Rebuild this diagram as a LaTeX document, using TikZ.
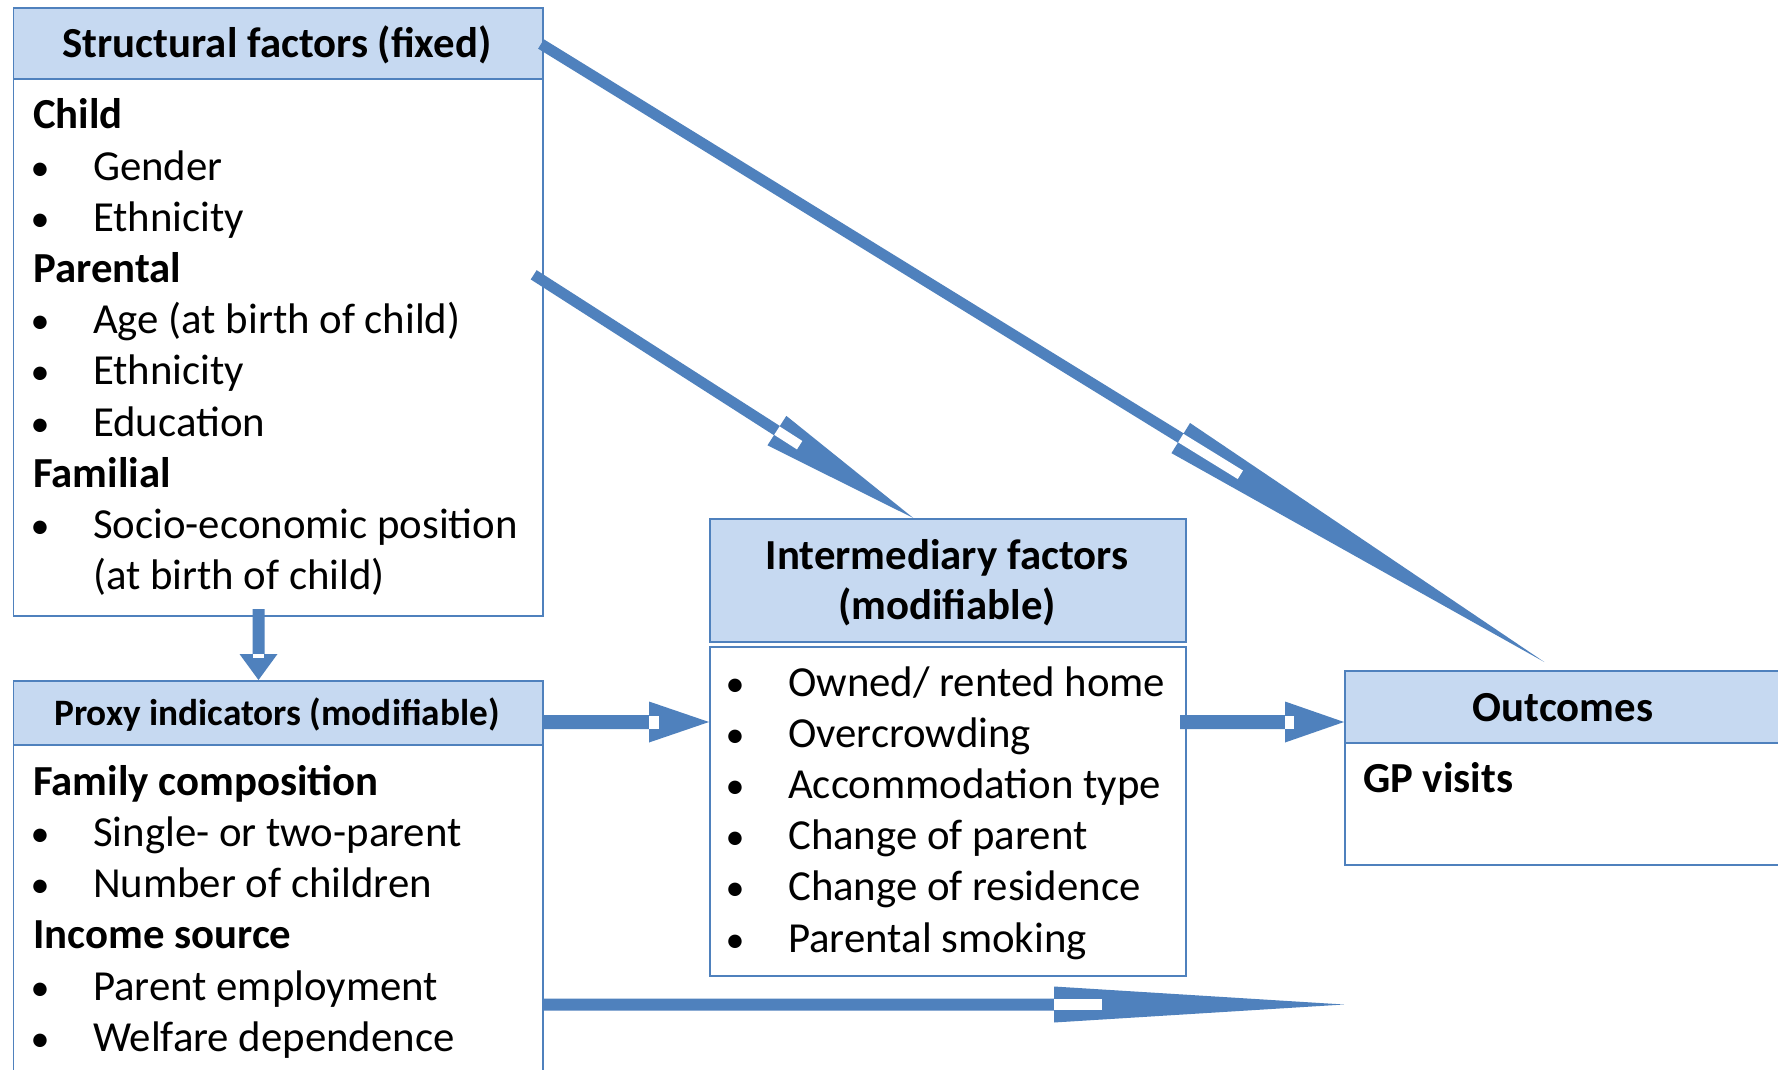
\documentclass[tikz,border=0pt]{standalone}
\usepackage{fontspec}
\setmainfont{Carlito}
\usetikzlibrary{calc}
\definecolor{bord}{HTML}{4F81BD}
\definecolor{hfill}{HTML}{C6D9F1}
\definecolor{arr}{HTML}{4F81BD}
\tikzset{
  boxh/.style={draw=bord, fill=hfill, line width=1.6pt, anchor=north west, inner sep=0pt},
  boxb/.style={draw=bord, fill=white, line width=1.6pt, anchor=north west, inner sep=0pt},
  txt/.style={anchor=base west, inner sep=0pt, font=\fontsize{42.8}{51}\selectfont},
  bul/.style={anchor=base, inner sep=0pt, font=\fontsize{38}{51}\selectfont},
  btxt/.style={anchor=base west, inner sep=0pt, font=\fontsize{42.8}{51}\selectfont\bfseries},
  htxt/.style={anchor=base, inner sep=0pt, font=\fontsize{42.8}{51}\selectfont\bfseries},
}
% #1 tail, #2 tip, #3 shaft half width, #4 head length, #5 head half width, #6 notch length, #7 notch half width
\newcommand{\blockarrow}[7]{%
  \coordinate (hb) at ($(#2)!#4!(#1)$);
  \coordinate (nb) at ($(hb)!#6!(#2)$);
  \fill[arr] ($(#1)!#3!90:(#2)$) -- ($(hb)!#3!90:(#2)$) -- ($(hb)!#5!90:(#2)$) -- (#2)
    -- ($(hb)!#5!-90:(#2)$) -- ($(hb)!#3!-90:(#2)$) -- ($(#1)!#3!-90:(#2)$) -- cycle;
  \fill[white] ($(hb)!#7!90:(#2)$) -- ($(nb)!#7!90:(#2)$) -- ($(nb)!#7!-90:(#2)$) -- ($(hb)!#7!-90:(#2)$) -- cycle;
}
\begin{document}
\begin{tikzpicture}[x=1pt,y=-1pt]
\clip (0,0) rectangle (1778,1070);
\fill[white] (0,0) rectangle (1778,1070);

% Structural factors
\node[boxh, minimum width=529.5pt, minimum height=71pt] (sfh) at (12.5,7) {};
\node[boxb, minimum width=529.5pt, minimum height=537pt] (sfb) at (12.5,78) {};
\node[htxt] (sft) at (277,57.5) {Structural factors (fixed)};
\node[btxt] (s1) at (33,129) {Child};
\node[bul] (s2b) at (40,180) {•}; \node[txt] (s2) at (93,180) {Gender};
\node[bul] (s3b) at (40,231.2) {•}; \node[txt] (s3) at (93,231.2) {Ethnicity};
\node[btxt] (s4) at (33,282.4) {Parental};
\node[bul] (s5b) at (40,333.6) {•}; \node[txt] (s5) at (93,333.6) {Age (at birth of child)};
\node[bul] (s6b) at (40,384.8) {•}; \node[txt] (s6) at (93,384.8) {Ethnicity};
\node[bul] (s7b) at (40,436) {•}; \node[txt] (s7) at (93,436) {Education};
\node[btxt] (s8) at (33,487.2) {Familial};
\node[bul] (s9b) at (40,538.4) {•}; \node[txt] (s9) at (93,538.4) {Socio-economic position};
\node[txt] (s10) at (93,589.6) {(at birth of child)};

% Proxy indicators
\node[boxh, minimum width=529.5pt, minimum height=64pt] (pih) at (12.5,680) {};
\node[boxb, minimum width=529.5pt, minimum height=340pt] (pib) at (12.5,744) {};
\node[anchor=base, inner sep=0pt, font=\fontsize{37.3}{45}\selectfont\bfseries] (pit) at (277,725.5) {Proxy indicators (modifiable)};
\node[btxt] (p1) at (33,795.5) {Family composition};
\node[bul] (p2b) at (40,846.5) {•}; \node[txt] (p2) at (93,846.5) {Single- or two-parent};
\node[bul] (p3b) at (40,897.7) {•}; \node[txt] (p3) at (93,897.7) {Number of children};
\node[btxt] (p4) at (33,948.9) {Income source};
\node[bul] (p5b) at (40,1000.1) {•}; \node[txt] (p5) at (93,1000.1) {Parent employment};
\node[bul] (p6b) at (40,1051.3) {•}; \node[txt] (p6) at (93,1051.3) {Welfare dependence};

% Intermediary factors
\node[boxh, minimum width=476pt, minimum height=123pt] (ifh) at (709,518) {};
\node[boxb, minimum width=476pt, minimum height=329pt] (ifb) at (709,646) {};
\node[htxt] (ift1) at (947,569) {Intermediary factors};
\node[htxt] (ift2) at (947,619.5) {(modifiable)};
\node[bul] (i1b) at (735,696) {•}; \node[txt] (i1) at (788,696) {Owned/ rented home};
\node[bul] (i2b) at (735,747.2) {•}; \node[txt] (i2) at (788,747.2) {Overcrowding};
\node[bul] (i3b) at (735,798.4) {•}; \node[txt] (i3) at (788,798.4) {Accommodation type};
\node[bul] (i4b) at (735,849.6) {•}; \node[txt] (i4) at (788,849.6) {Change of parent};
\node[bul] (i5b) at (735,900.8) {•}; \node[txt] (i5) at (788,900.8) {Change of residence};
\node[bul] (i6b) at (735,952) {•}; \node[txt] (i6) at (788,952) {Parental smoking};

% Outcomes
\node[boxh, minimum width=460pt, minimum height=72pt] (oh) at (1344,670) {};
\node[boxb, minimum width=460pt, minimum height=122pt] (ob) at (1344,742) {};
\node[htxt] (ot) at (1563,721) {Outcomes};
\node[btxt] (o1) at (1363,792.5) {GP visits};

% connector endpoints
\coordinate (a1t) at (258.5,609);  \coordinate (a1h) at (258.5,680);
\coordinate (a2t) at (542,722);    \coordinate (a2h) at (709,722);
\coordinate (a3t) at (1180,722);   \coordinate (a3h) at (1344,722);
\coordinate (a4t) at (542,1004.5); \coordinate (a4h) at (1344,1004.5);
\coordinate (a5t) at (533.7,274.8);\coordinate (a5h) at (913.3,518);
\coordinate (a6t) at (541,44);     \coordinate (a6h) at (1544.3,662);

\blockarrow{a1t}{a1h}{6pt}{26pt}{19pt}{4pt}{5.5pt}
\blockarrow{a2t}{a2h}{7pt}{60pt}{20.5pt}{10pt}{6.5pt}
\blockarrow{a3t}{a3h}{7pt}{59pt}{20.5pt}{9pt}{6.5pt}
\blockarrow{a4t}{a4h}{6pt}{290pt}{18pt}{48pt}{5.5pt}
\blockarrow{a5t}{a5h}{5.5pt}{162pt}{17.5pt}{27pt}{5pt}
\blockarrow{a6t}{a6h}{5.5pt}{427pt}{17.7pt}{70pt}{5pt}
\end{tikzpicture}
\end{document}
